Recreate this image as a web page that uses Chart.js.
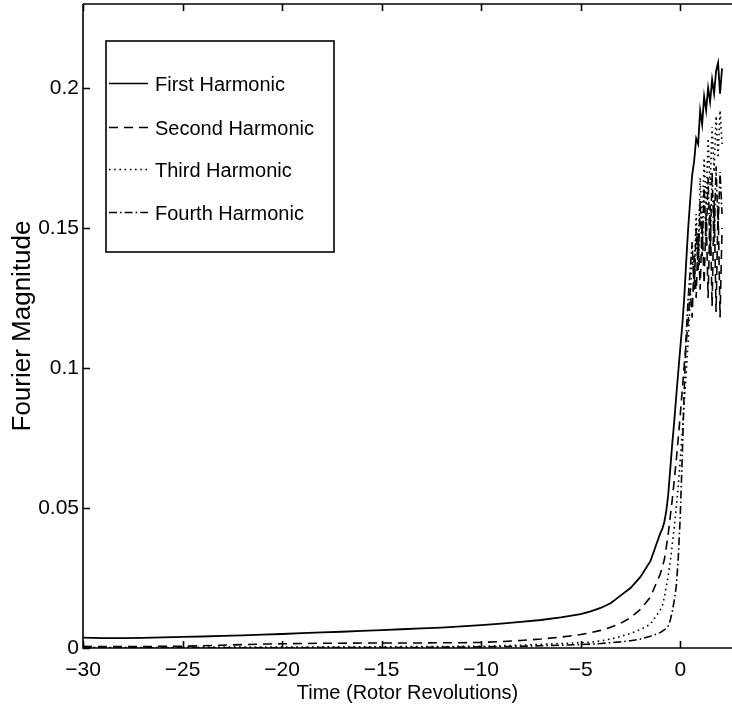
<!DOCTYPE html>
<html>
<head>
<meta charset="utf-8">
<script src="https://cdn.jsdelivr.net/npm/chart.js@4.4.1/dist/chart.umd.min.js"></script>
<style>
  html, body { margin: 0; padding: 0; background: #fff; }
  canvas { display: block; }
</style>
</head>
<body>
<canvas id="chart" width="732" height="712"></canvas>
<script>
// Time axis (rotor revolutions) shared by all four harmonics
const revolutions = [
  -30, -29, -28, -27, -26, -25, -24, -23, -22, -21, -20, -19, -18, -17, -16, -15,
  -14, -13, -12, -11, -10, -9, -8, -7, -6, -5,
  -4.5, -4, -3.5, -3, -2.5, -2, -1.5, -1,
  -0.9, -0.8, -0.7, -0.6, -0.5, -0.4, -0.3, -0.2, -0.1, 0,
  0.1, 0.2, 0.3, 0.4, 0.5, 0.6, 0.7, 0.8, 0.9, 1.0,
  1.1, 1.2, 1.3, 1.4, 1.5, 1.6, 1.7, 1.8, 1.9, 2.0, 2.1
];

const firstHarmonic = [
  0.0037, 0.0035, 0.0035, 0.0036, 0.0038, 0.0040, 0.0041, 0.0043, 0.0045, 0.0048, 0.0050, 0.0053, 0.0056, 0.0058, 0.0061, 0.0064,
  0.0067, 0.0070, 0.0073, 0.0077, 0.0082, 0.0087, 0.0093, 0.0100, 0.0109, 0.0121,
  0.0131, 0.0143, 0.0160, 0.0187, 0.0214, 0.0254, 0.0310, 0.0410,
  0.0425, 0.0450, 0.0490, 0.0550, 0.0640, 0.0730, 0.0810, 0.0900, 0.0985, 0.1070,
  0.1150, 0.1250, 0.1380, 0.1500, 0.1600, 0.1690, 0.1740, 0.1820, 0.1800, 0.1920,
  0.1870, 0.1970, 0.1920, 0.2000, 0.1950, 0.2030, 0.1980, 0.2060, 0.2090, 0.1980, 0.2070
];

const secondHarmonic = [
  0.0006, 0.0005, 0.0005, 0.0005, 0.0006, 0.0006, 0.0008, 0.0010, 0.0012, 0.0014, 0.0015, 0.0016, 0.0017, 0.0017, 0.0018, 0.0018,
  0.0018, 0.0018, 0.0019, 0.0019, 0.0020, 0.0023, 0.0027, 0.0032, 0.0039, 0.0048,
  0.0055, 0.0063, 0.0074, 0.0088, 0.0108, 0.0138, 0.0182, 0.0265,
  0.0290, 0.0315, 0.0360, 0.0410, 0.0470, 0.0530, 0.0600, 0.0670, 0.0750, 0.0830,
  0.0920, 0.1010, 0.1090, 0.1170, 0.1280, 0.1180, 0.1400, 0.1250, 0.1480, 0.1280,
  0.1520, 0.1300, 0.1550, 0.1250, 0.1580, 0.1220, 0.1600, 0.1200, 0.1580, 0.1180, 0.1500
];

const thirdHarmonic = [
  0.0002, 0.0002, 0.0002, 0.0002, 0.0002, 0.0002, 0.0003, 0.0003, 0.0003, 0.0003, 0.0003, 0.0003, 0.0004, 0.0004, 0.0004, 0.0004,
  0.0005, 0.0005, 0.0005, 0.0006, 0.0006, 0.0008, 0.0010, 0.0013, 0.0016, 0.0019,
  0.0021, 0.0025, 0.0032, 0.0041, 0.0052, 0.0066, 0.0085, 0.0136,
  0.0150, 0.0180, 0.0220, 0.0260, 0.0310, 0.0370, 0.0430, 0.0500, 0.0580, 0.0670,
  0.0770, 0.0880, 0.0980, 0.1100, 0.1250, 0.1400, 0.1320, 0.1550, 0.1400, 0.1680,
  0.1500, 0.1750, 0.1580, 0.1820, 0.1650, 0.1860, 0.1700, 0.1900, 0.1750, 0.1920, 0.1800
];

const fourthHarmonic = [
  0.0001, 0.0001, 0.0001, 0.0001, 0.0001, 0.0001, 0.0001, 0.0001, 0.0001, 0.0001, 0.0001, 0.0001, 0.0002, 0.0002, 0.0002, 0.0002,
  0.0002, 0.0002, 0.0003, 0.0003, 0.0004, 0.0005, 0.0006, 0.0008, 0.0010, 0.0012,
  0.0014, 0.0016, 0.0019, 0.0022, 0.0026, 0.0032, 0.0042, 0.0055,
  0.0060, 0.0065, 0.0070, 0.0080, 0.0100, 0.0130, 0.0170, 0.0220, 0.0320, 0.0470,
  0.0680, 0.0920, 0.1120, 0.1250, 0.1350, 0.1450, 0.1280, 0.1500, 0.1350, 0.1600,
  0.1400, 0.1650, 0.1450, 0.1680, 0.1400, 0.1700, 0.1450, 0.1720, 0.1500, 0.1700, 0.1550
];

const seriesNames = ['First Harmonic', 'Second Harmonic', 'Third Harmonic', 'Fourth Harmonic'];

const xTickValues = [-30, -25, -20, -15, -10, -5, 0];
const xTickLabels = ['\u221230', '\u221225', '\u221220', '\u221215', '\u221210', '\u22125', '0'];
const yTickValues = [0, 0.05, 0.1, 0.15, 0.2];
const yTickLabels = ['0', '0.05', '0.1', '0.15', '0.2'];

const TEXT_FONT = "'Liberation Sans', Arial, Helvetica, sans-serif";
const INK = '#000';

// Line styles: solid, dashed, dotted, dash-dot
const lineDashes = [[], [9, 6], [1.6, 3.6], [8, 3, 1.6, 3]];
const lineWidths = [1.8, 1.6, 1.6, 1.6];
const seriesValues = [firstHarmonic, secondHarmonic, thirdHarmonic, fourthHarmonic];

const datasets = seriesValues.map((vals, k) => ({
  label: seriesNames[k],
  data: revolutions.map((t, i) => ({ x: t, y: vals[i] })),
  borderColor: INK,
  borderWidth: lineWidths[k],
  borderDash: lineDashes[k],
  pointRadius: 0,
  fill: false,
  tension: 0
}));

// Axes box (left, bottom, top) with inward-pointing tick marks
const framePlugin = {
  id: 'frame',
  afterDatasetsDraw(chart) {
    const { ctx, chartArea: a, scales: { x, y } } = chart;
    const tick = 7;
    ctx.save();
    ctx.strokeStyle = INK;
    ctx.lineWidth = 1.6;
    ctx.setLineDash([]);
    ctx.beginPath();
    ctx.moveTo(a.left, a.top);
    ctx.lineTo(a.left, a.bottom);
    ctx.lineTo(a.right, a.bottom);
    ctx.moveTo(a.left, a.top);
    ctx.lineTo(a.right, a.top);
    x.ticks.forEach(t => {
      const px = Math.round(x.getPixelForValue(t.value)) + 0.5;
      ctx.moveTo(px, a.bottom); ctx.lineTo(px, a.bottom - tick);
      ctx.moveTo(px, a.top); ctx.lineTo(px, a.top + tick);
    });
    y.ticks.forEach(t => {
      const py = Math.round(y.getPixelForValue(t.value)) + 0.5;
      ctx.moveTo(a.left, py); ctx.lineTo(a.left + tick, py);
    });
    ctx.stroke();
    ctx.restore();
  }
};

// Boxed key in the upper-left of the plot
const keyPlugin = {
  id: 'keyBox',
  afterDraw(chart) {
    const { ctx } = chart;
    const box = { left: 106, top: 41, right: 334, bottom: 252 };
    const rowBaselines = [91, 135, 177, 220];
    ctx.save();
    ctx.fillStyle = '#fff';
    ctx.fillRect(box.left, box.top, box.right - box.left, box.bottom - box.top);
    ctx.strokeStyle = INK;
    ctx.lineWidth = 1.6;
    ctx.setLineDash([]);
    ctx.strokeRect(box.left, box.top, box.right - box.left, box.bottom - box.top);
    ctx.font = '20px ' + TEXT_FONT;
    ctx.fillStyle = INK;
    ctx.textBaseline = 'alphabetic';
    ctx.textAlign = 'left';
    chart.data.datasets.forEach((ds, k) => {
      const base = rowBaselines[k];
      const ly = base - 7.5;
      ctx.beginPath();
      ctx.lineWidth = 1.4;
      ctx.setLineDash(ds.borderDash);
      ctx.moveTo(109, ly);
      ctx.lineTo(148, ly);
      ctx.stroke();
      ctx.setLineDash([]);
      ctx.fillText(ds.label, 155, base);
    });
    ctx.restore();
  }
};

new Chart(document.getElementById('chart'), {
  type: 'line',
  data: { datasets },
  plugins: [framePlugin, keyPlugin],
  options: {
    responsive: false,
    animation: false,
    devicePixelRatio: 1,
    layout: { padding: { left: 0, right: 0, top: 4, bottom: 0 } },
    plugins: { legend: { display: false }, tooltip: { enabled: false } },
    scales: {
      x: {
        type: 'linear',
        min: -30,
        max: 2.6,
        afterBuildTicks: s => { s.ticks = xTickValues.map(v => ({ value: v })); },
        afterFit: s => { s.height = 64; s.paddingLeft = 0; s.paddingRight = 0; },
        grid: { display: false, drawTicks: false },
        border: { display: false },
        ticks: {
          color: INK,
          font: { family: TEXT_FONT, size: 21 },
          padding: 10,
          maxRotation: 0,
          autoSkip: false,
          callback: v => xTickLabels[xTickValues.indexOf(v)]
        },
        title: {
          display: true,
          text: 'Time (Rotor Revolutions)',
          color: INK,
          font: { family: TEXT_FONT, size: 20 },
          padding: { top: 0, bottom: 7 }
        }
      },
      y: {
        type: 'linear',
        min: 0,
        max: 0.23,
        afterBuildTicks: s => { s.ticks = yTickValues.map(v => ({ value: v })); },
        afterFit: s => { s.width = 83; s.paddingTop = 0; s.paddingBottom = 0; },
        grid: { display: false, drawTicks: false },
        border: { display: false },
        ticks: {
          color: INK,
          font: { family: TEXT_FONT, size: 21 },
          padding: 4,
          autoSkip: false,
          callback: v => yTickLabels[yTickValues.indexOf(v)]
        },
        title: {
          display: true,
          text: 'Fourier Magnitude',
          color: INK,
          font: { family: TEXT_FONT, size: 26 },
          padding: { top: 7, bottom: 0 }
        }
      }
    }
  }
});
</script>
</body>
</html>
